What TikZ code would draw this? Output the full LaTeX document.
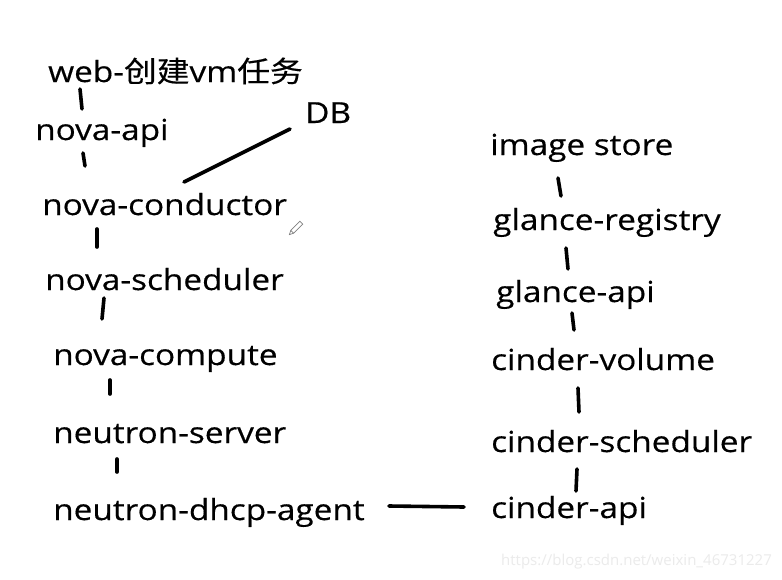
\documentclass[tikz,border=0pt]{standalone}
\usepackage{fontspec}
\setmainfont[FakeStretch=1.15,FakeBold=0.4]{Open Sans}
\newfontfamily\cjk[FakeStretch=1.13,FakeBold=0.4]{Noto Sans CJK SC}
\newfontfamily\wmfont{Open Sans}
\begin{document}
\begin{tikzpicture}[x=1pt,y=-1pt,
  lbl/.style={anchor=base west,inner sep=0pt,font=\fontsize{29}{34}\selectfont},
  link/.style={line width=3.6pt,line cap=round}]
\useasboundingbox[fill=white] (0,0) rectangle (782,579);
% left column
\node[lbl] (web) at (48,82) {web-{\cjk 创建}vm{\cjk 任务}};
\node[lbl] (napi) at (35,140) {nova-api};
\node[lbl] (db) at (305,123) {DB};
\node[lbl] (cond) at (42,215) {nova-conductor};
\node[lbl] (sched) at (45,290) {nova-scheduler};
\node[lbl] (comp) at (53,365) {nova-compute};
\node[lbl] (nserv) at (53,443) {neutron-server};
\node[lbl] (dhcp) at (53,520) {neutron-dhcp-agent};
% right column
\node[lbl] (img) at (490,155) {image store};
\node[lbl] (greg) at (493,230) {glance-registry};
\node[lbl] (gapi) at (496,302) {glance-api};
\node[lbl] (cvol) at (491,370) {cinder-volume};
\node[lbl] (csch) at (491,452) {cinder-scheduler};
\node[lbl] (capi) at (491,518) {cinder-api};
% connector end points
\coordinate (a1) at (80,89);   \coordinate (a2) at (82,109);
\coordinate (b1) at (83,153);  \coordinate (b2) at (85,166);
\coordinate (d1) at (184,182); \coordinate (d2) at (290,129);
\coordinate (e1) at (97,229);  \coordinate (e2) at (97,247);
\coordinate (f1) at (104,298); \coordinate (f2) at (102,319);
\coordinate (g1) at (110,380); \coordinate (g2) at (110,394);
\coordinate (h1) at (117,459); \coordinate (h2) at (117,472);
\coordinate (i1) at (389,506); \coordinate (i2) at (464,507);
\coordinate (j1) at (558,178); \coordinate (j2) at (561,196);
\coordinate (k1) at (566,248); \coordinate (k2) at (568,269);
\coordinate (l1) at (572,313); \coordinate (l2) at (574,330);
\coordinate (m1) at (578,388); \coordinate (m2) at (579,412);
\coordinate (n1) at (577,469); \coordinate (n2) at (576,491);
\draw[link] (a1) -- (a2);
\draw[link] (b1) -- (b2);
\draw[link] (d1) -- (d2);
\draw[link] (e1) -- (e2);
\draw[link] (f1) -- (f2);
\draw[link] (g1) -- (g2);
\draw[link] (h1) -- (h2);
\draw[link] (i1) -- (i2);
\draw[link] (j1) -- (j2);
\draw[link] (k1) -- (k2);
\draw[link] (l1) -- (l2);
\draw[link] (m1) -- (m2);
\draw[link] (n1) -- (n2);
% pencil cursor
\begin{scope}[shift={(295,229)},rotate=-45,gray,line width=0.7pt]
\draw (-2,-9) rectangle (2,4);
\draw (-2,4) -- (0,8) -- (2,4);
\end{scope}
% watermark
\node[anchor=base west,inner sep=0pt,text=black!8,font=\wmfont\fontsize{15}{17}\selectfont] (wm) at (501,565) {https://blog.csdn.net/weixin\_46731227};
\end{tikzpicture}
\end{document}
